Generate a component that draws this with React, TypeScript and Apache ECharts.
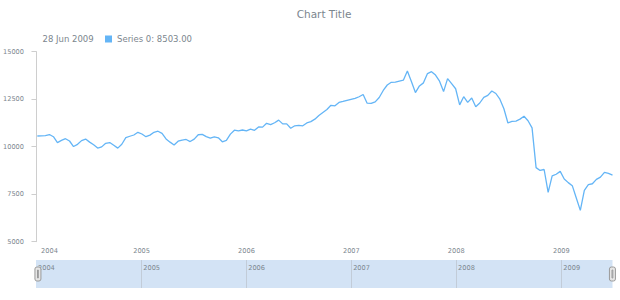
import React, { useEffect, useRef } from "react";
import * as echarts from "echarts";

const chartTitle = "Chart Title";
const seriesName = "Series 0";
// biweekly samples (Sundays) starting 4 Jan 2004, ending 28 Jun 2009
const firstDay = [2004, 0, 4];
const stepDays = 14;
const yearLabels = ["2004", "2005", "2006", "2007", "2008", "2009"];

const values2004 = [
  10563, 10575, 10580, 10640, 10526, 10214, 10330, 10420, 10300, 10010, 10126, 10320, 10400,
  10240, 10100, 9930, 9990, 10179, 10220, 10080, 9925, 10130, 10474, 10550, 10616, 10758,
];
const values2005 = [
  10668, 10526, 10610, 10760, 10815, 10700, 10410, 10240, 10090, 10290, 10350, 10380, 10270,
  10400, 10630, 10650, 10530, 10450, 10520, 10470, 10260, 10330, 10660, 10870, 10830, 10879,
];
const values2006 = [
  10830, 10920, 10860, 11040, 11030, 11230, 11160, 11260, 11400, 11200, 11200, 10970, 11100,
  11120, 11100, 11250, 11320, 11450, 11640, 11800, 11960, 12180, 12150, 12330, 12380, 12440, 12490,
];
const values2007 = [
  12540, 12630, 12750, 12290, 12280, 12360, 12590, 12960, 13247, 13390, 13400, 13450, 13500,
  13980, 13430, 12850, 13200, 13360, 13850, 13950, 13770, 13450, 12900, 13580, 13320, 13050,
];
const values2008 = [
  12200, 12630, 12330, 12560, 12100, 12300, 12600, 12700, 12930, 12800, 12500, 12000, 11250,
  11330, 11350, 11450, 11600, 11368, 10990, 8900, 8750, 8800, 7600, 8460, 8550, 8700,
];
const values2009 = [8300, 8110, 7950, 7300, 6650, 7700, 8000, 8050, 8280, 8400, 8650, 8600, 8503];

const values = [...values2004, ...values2005, ...values2006, ...values2007, ...values2008, ...values2009];

const MONTHS = ["Jan", "Feb", "Mar", "Apr", "May", "Jun", "Jul", "Aug", "Sep", "Oct", "Nov", "Dec"];
const FONT = "'DejaVu Sans', Verdana, sans-serif";
const TXT = "#7c868e";
const LINE = "#64b5f6";

export default function App() {
  const ref = useRef<HTMLDivElement>(null);
  useEffect(() => {
    if (!ref.current) return;
    const chart = echarts.init(ref.current, undefined, { renderer: "svg" });
    const dates = values.map((_, i) =>
      new Date(firstDay[0], firstDay[1], firstDay[2] + i * stepDays).getTime()
    );
    const data = dates.map((d, i) => [d, values[i]]);
    const last = new Date(dates[dates.length - 1]);
    const lastLabel = `${last.getDate()} ${MONTHS[last.getMonth()]} ${last.getFullYear()}`;
    const lastValue = values[values.length - 1];
    const xMin = new Date(+yearLabels[0], 0, 1).getTime();
    const xMax = dates[dates.length - 1];
    const yearStarts = yearLabels.map((y) => new Date(+y, 0, 1).getTime());
    const yearOf = (v: number) => String(new Date(v).getFullYear());

    const option: any = {
      animation: false,
      title: {
        text: chartTitle,
        left: 324,
        top: 8,
        textAlign: "center",
        padding: 0,
        textStyle: { color: TXT, fontSize: 10.5, fontWeight: "normal", fontFamily: FONT },
      },
      legend: {
        left: 105,
        top: 34.5,
        padding: 0,
        itemWidth: 7,
        itemHeight: 7,
        icon: "rect",
        selectedMode: false,
        formatter: (name: string) => `${name}: ${lastValue.toFixed(2)}`,
        textStyle: { color: TXT, fontSize: 8.5, fontFamily: FONT },
      },
      graphic: [
        {
          type: "text",
          left: 42.5,
          top: 34.5,
          style: { text: lastLabel, fill: TXT, fontSize: 8.5, fontFamily: FONT },
        },
      ],
      grid: [
        { left: 36, right: 7.5, top: 51.7, height: 190 },
        {
          left: 36,
          right: 7.5,
          top: 260,
          height: 28,
          show: true,
          backgroundColor: "#d3e3f5",
          borderWidth: 0,
        },
      ],
      xAxis: [
        {
          type: "value",
          gridIndex: 0,
          min: xMin,
          max: xMax,
          axisLine: { show: false, onZero: false },
          axisTick: { show: false },
          splitLine: { show: false },
          axisLabel: {
            customValues: yearStarts,
            color: TXT,
            fontSize: 6.6,
            fontFamily: FONT,
            margin: 5.5,
            formatter: (v: number) => {
              const y = yearOf(v);
              return v === yearStarts[0] ? `{first|${y}}` : y;
            },
            rich: { first: { padding: [0, 0, 0, 26], color: TXT, fontSize: 6.6, fontFamily: FONT } },
          },
        },
        {
          type: "value",
          gridIndex: 1,
          min: xMin,
          max: xMax,
          position: "top",
          axisLine: { show: false, onZero: false },
          axisTick: {
            show: true,
            inside: true,
            length: 28,
            customValues: yearStarts.slice(1),
            lineStyle: { color: "#c2ccd8", width: 1 },
          },
          splitLine: { show: false },
          axisLabel: {
            inside: true,
            customValues: yearStarts,
            align: "left",
            padding: [0, 0, 0, 2],
            margin: 4,
            color: TXT,
            fontSize: 6.6,
            fontFamily: FONT,
            formatter: (v: number) => yearOf(v),
          },
        },
      ],
      yAxis: [
        {
          type: "value",
          gridIndex: 0,
          min: 5000,
          max: 15000,
          interval: 2500,
          axisLine: { show: true, lineStyle: { color: "#cecece", width: 1 } },
          axisTick: { show: true, length: 5, lineStyle: { color: "#cecece" } },
          splitLine: { show: false },
          axisLabel: {
            color: TXT,
            fontSize: 6.6,
            fontFamily: FONT,
            margin: 12.5,
            formatter: (v: number) => String(v),
          },
        },
        { type: "value", gridIndex: 1, show: false, min: 1, max: 2 },
      ],
      dataZoom: [
        {
          type: "slider",
          xAxisIndex: 0,
          filterMode: "none",
          start: 0,
          end: 100,
          left: 36,
          right: 7.5,
          top: 260,
          height: 28,
          showDataShadow: false,
          showDetail: false,
          brushSelect: false,
          backgroundColor: "rgba(0,0,0,0)",
          fillerColor: "rgba(0,0,0,0)",
          borderColor: "rgba(0,0,0,0)",
          moveHandleSize: 0,
          moveHandleStyle: { opacity: 0 },
          handleIcon:
            "path://M2,0 h2 a2,2 0 0 1 2,2 v10 a2,2 0 0 1 -2,2 h-2 a2,2 0 0 1 -2,-2 v-10 a2,2 0 0 1 2,-2 z M2.6,3 v8 h0.8 v-8 z",
          handleSize: "50%",
          handleStyle: { color: "#e6e6e6", borderColor: "#9a9a9a", borderWidth: 1 },
        },
      ],
      series: [
        {
          type: "line",
          name: seriesName,
          data,
          showSymbol: false,
          xAxisIndex: 0,
          yAxisIndex: 0,
          lineStyle: { color: LINE, width: 1.3 },
          itemStyle: { color: LINE },
        },
      ],
    };
    chart.setOption(option);
    return () => chart.dispose();
  }, []);
  return (
    <div
      ref={ref}
      style={{ position: "fixed", left: 0, top: 0, width: 620, height: 300, background: "#fff" }}
    />
  );
}
